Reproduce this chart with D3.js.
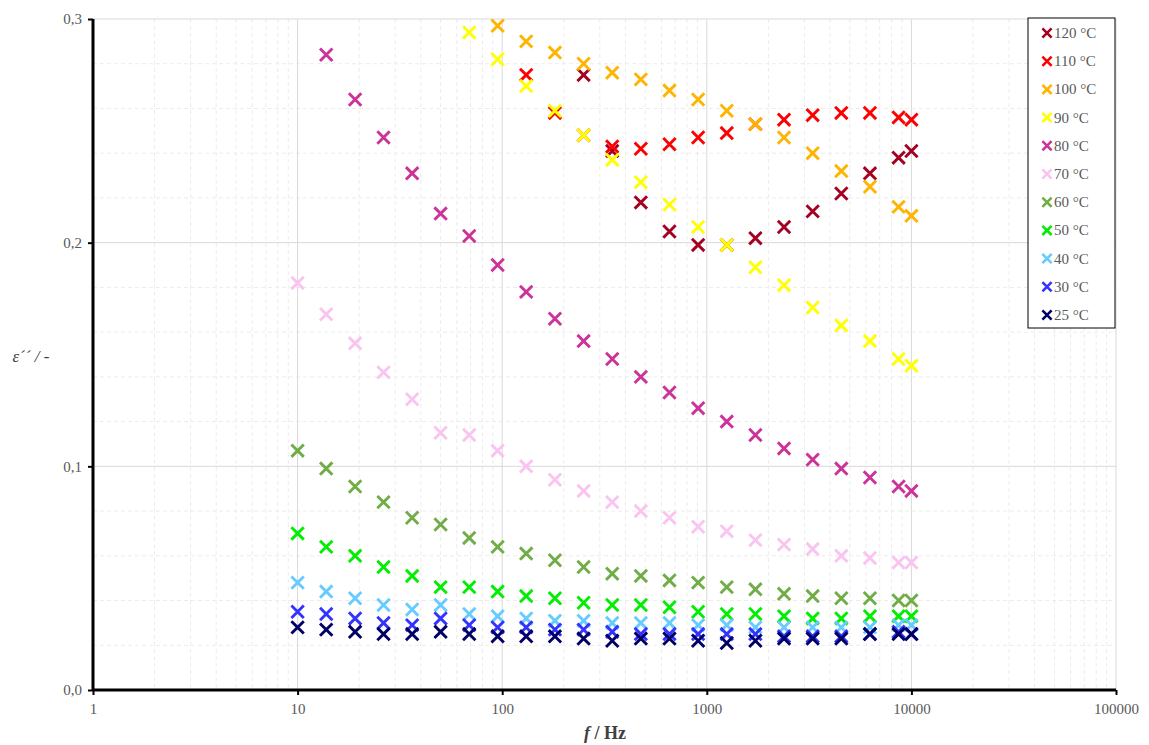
<!DOCTYPE html>
<html>
<head>
<meta charset="utf-8">
<script src="https://cdn.jsdelivr.net/npm/d3@7"></script>
<style>
  body { margin: 0; background: #fff; }
  svg { display: block; font-family: "Liberation Serif", "Times New Roman", serif; }
</style>
</head>
<body>
<div id="chart"></div>
<script>
// frequencies (Hz)
const freqs = [10, 13.8, 19.1, 26.3, 36.3, 50, 69, 95, 131, 181, 250, 345, 476, 657, 907, 1252, 1728, 2385, 3292, 4544, 6272, 8657, 10000];

const labels = ["120 °C", "110 °C", "100 °C", "90 °C", "80 °C", "70 °C", "60 °C", "50 °C", "40 °C", "30 °C", "25 °C"];
const colors = ["#a50021", "#ff0000", "#ffb400", "#ffff00", "#cc3399", "#f9c4f0", "#70ad47", "#00ee00", "#66ccff", "#3333ff", "#000066"];

const n = null;
const e120 = [n, n, n, n, n, n, n, n, n, n, 0.275, 0.241, 0.218, 0.205, 0.199, 0.199, 0.202, 0.207, 0.214, 0.222, 0.231, 0.238, 0.241];
const e110 = [n, n, n, n, n, n, n, n, 0.275, 0.258, 0.248, 0.243, 0.242, 0.244, 0.247, 0.249, 0.253, 0.255, 0.257, 0.258, 0.258, 0.256, 0.255];
const e100 = [n, n, n, n, n, n, n, 0.297, 0.290, 0.285, 0.280, 0.276, 0.273, 0.268, 0.264, 0.259, 0.253, 0.247, 0.240, 0.232, 0.225, 0.216, 0.212];
const e90  = [n, n, n, n, n, n, 0.294, 0.282, 0.270, 0.259, 0.248, 0.237, 0.227, 0.217, 0.207, 0.199, 0.189, 0.181, 0.171, 0.163, 0.156, 0.148, 0.145];
const e80  = [n, 0.284, 0.264, 0.247, 0.231, 0.213, 0.203, 0.190, 0.178, 0.166, 0.156, 0.148, 0.140, 0.133, 0.126, 0.120, 0.114, 0.108, 0.103, 0.099, 0.095, 0.091, 0.089];
const e70  = [0.182, 0.168, 0.155, 0.142, 0.130, 0.115, 0.114, 0.107, 0.100, 0.094, 0.089, 0.084, 0.080, 0.077, 0.073, 0.071, 0.067, 0.065, 0.063, 0.060, 0.059, 0.057, 0.057];
const e60  = [0.107, 0.099, 0.091, 0.084, 0.077, 0.074, 0.068, 0.064, 0.061, 0.058, 0.055, 0.052, 0.051, 0.049, 0.048, 0.046, 0.045, 0.043, 0.042, 0.041, 0.041, 0.040, 0.040];
const e50  = [0.070, 0.064, 0.060, 0.055, 0.051, 0.046, 0.046, 0.044, 0.042, 0.041, 0.039, 0.038, 0.038, 0.037, 0.035, 0.034, 0.034, 0.033, 0.032, 0.032, 0.033, 0.033, 0.033];
const e40  = [0.048, 0.044, 0.041, 0.038, 0.036, 0.038, 0.034, 0.033, 0.032, 0.031, 0.031, 0.030, 0.030, 0.030, 0.029, 0.029, 0.028, 0.028, 0.028, 0.028, 0.028, 0.029, 0.029];
const e30  = [0.035, 0.034, 0.032, 0.030, 0.029, 0.032, 0.029, 0.028, 0.028, 0.027, 0.027, 0.026, 0.025, 0.025, 0.025, 0.025, 0.025, 0.024, 0.024, 0.024, 0.025, 0.026, 0.025];
const e25  = [0.028, 0.027, 0.026, 0.025, 0.025, 0.026, 0.025, 0.024, 0.024, 0.024, 0.023, 0.022, 0.023, 0.023, 0.022, 0.021, 0.022, 0.023, 0.023, 0.023, 0.025, 0.025, 0.025];

const seriesVals = [e120, e110, e100, e90, e80, e70, e60, e50, e40, e30, e25];

const xTicks = [1, 10, 100, 1000, 10000, 100000];
const yTicks = [0, 0.1, 0.2, 0.3];

const width = 1149, height = 745;
const margin = {top: 19, right: 33, bottom: 55, left: 93};
const innerW = width - margin.left - margin.right;
const innerH = height - margin.top - margin.bottom;

const svg = d3.select("#chart").append("svg")
  .attr("width", width).attr("height", height);

const g = svg.append("g").attr("transform", `translate(${margin.left},${margin.top})`);

const x = d3.scaleLog().domain([1, 100000]).range([0, innerW]);
const y = d3.scaleLinear().domain([0, 0.3]).range([innerH, 0]);

// minor grid
const minorX = [];
for (let d = 1; d < 100000; d *= 10) for (let k = 2; k <= 9; k++) minorX.push(d * k);
const minorY = d3.range(0.02, 0.3, 0.02).filter(v => Math.abs(v * 10 - Math.round(v * 10)) > 1e-6);

g.append("g").selectAll("line").data(minorX).join("line")
  .attr("x1", d => x(d)).attr("x2", d => x(d)).attr("y1", 0).attr("y2", innerH)
  .attr("stroke", "#ececec").attr("stroke-dasharray", "4,3");
g.append("g").selectAll("line").data(minorY).join("line")
  .attr("x1", 0).attr("x2", innerW).attr("y1", d => y(d)).attr("y2", d => y(d))
  .attr("stroke", "#ececec").attr("stroke-dasharray", "4,3");

// major grid
g.append("g").selectAll("line").data(xTicks).join("line")
  .attr("x1", d => x(d)).attr("x2", d => x(d)).attr("y1", 0).attr("y2", innerH)
  .attr("stroke", "#d9d9d9");
g.append("g").selectAll("line").data(yTicks).join("line")
  .attr("x1", 0).attr("x2", innerW).attr("y1", d => y(d)).attr("y2", d => y(d))
  .attr("stroke", "#d9d9d9");

// axes
const xAxis = d3.axisBottom(x).tickValues(xTicks).tickFormat(d3.format("d")).tickSize(5).tickPadding(8);
const yAxis = d3.axisLeft(y).tickValues(yTicks).tickFormat(d => d3.format(".1f")(d).replace(".", ",")).tickSize(5).tickPadding(6);

const gx = g.append("g").attr("transform", `translate(0,${innerH})`).call(xAxis);
const gy = g.append("g").call(yAxis);
[gx, gy].forEach(a => {
  a.select(".domain").attr("stroke", "#000").attr("stroke-width", 3);
  a.selectAll(".tick line").attr("stroke", "#000").attr("stroke-width", 2);
  a.selectAll(".tick text").attr("fill", "#595959").style("font-size", "15px")
    .style("font-family", "'Liberation Serif', serif");
});
gx.select(".domain").attr("d", `M0,0H${innerW}`);
gy.select(".domain").attr("d", `M0,0V${innerH}`);

// X marker
const xMark = (sel, s) => sel.attr("d", `M${-s},${-s}L${s},${s}M${-s},${s}L${s},${-s}`);

// points: 120 first, 25 last (drawn on top)
seriesVals.forEach((vals, i) => {
  const pts = freqs.map((f, j) => ({f, v: vals[j]})).filter(d => d.v != null);
  g.append("g").selectAll("path").data(pts).join("path")
    .attr("transform", d => `translate(${x(d.f)},${y(d.v)})`)
    .call(xMark, 6.2)
    .attr("stroke", colors[i]).attr("stroke-width", 2.9).attr("fill", "none");
});

// axis titles
svg.append("text")
  .attr("x", 605).attr("y", 739)
  .attr("text-anchor", "middle")
  .style("font-size", "18px").style("font-weight", "bold").attr("fill", "#404040")
  .html('<tspan font-style="italic">f</tspan> / Hz');

svg.append("text")
  .attr("x", 31).attr("y", 362)
  .attr("text-anchor", "middle")
  .style("font-size", "17px").style("font-style", "italic").attr("fill", "#404040")
  .text("ε´´ / -");

// legend
const legend = svg.append("g").attr("transform", "translate(1028,18)");
legend.append("rect").attr("width", 87).attr("height", 310)
  .attr("fill", "#fff").attr("stroke", "#000").attr("stroke-width", 1);
const items = legend.selectAll("g.item").data(labels).join("g")
  .attr("class", "item")
  .attr("transform", (d, i) => `translate(19,${15 + i * 28.2})`);
items.append("path").call(xMark, 4.6)
  .attr("stroke", (d, i) => colors[i]).attr("stroke-width", 2.6).attr("fill", "none");
items.append("text").attr("x", 7).attr("y", 5)
  .style("font-size", "15px").attr("fill", "#595959")
  .text(d => d);
</script>
</body>
</html>
